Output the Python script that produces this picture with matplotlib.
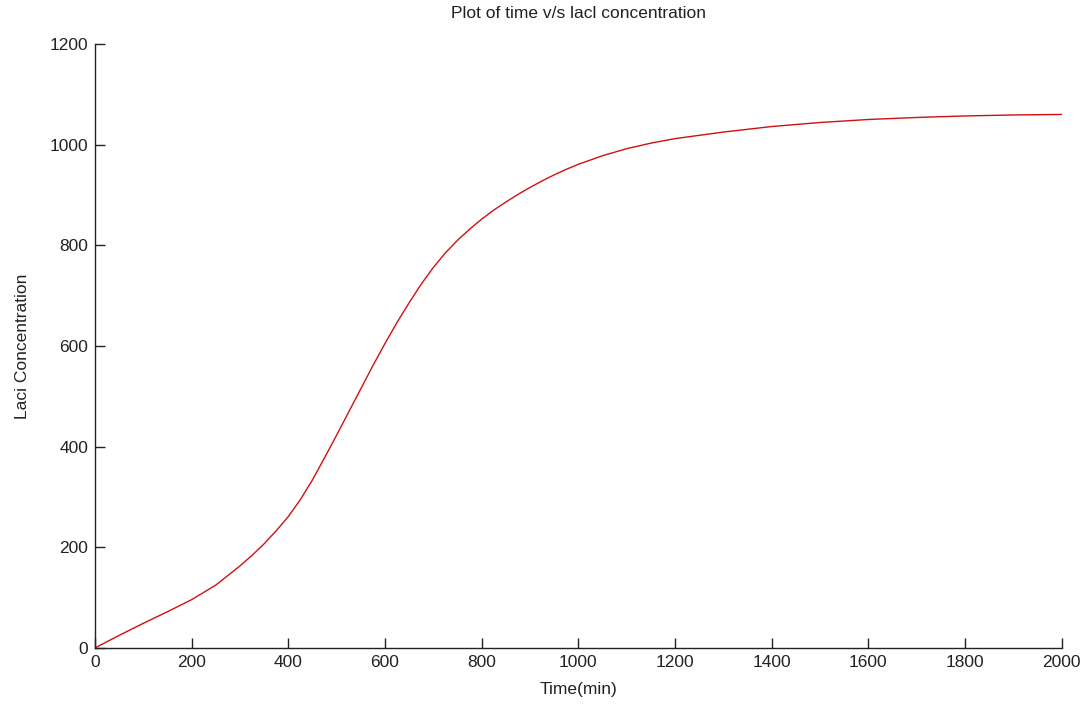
import numpy as np
import matplotlib.pyplot as plt

# values
time_min = [0, 50, 100, 150, 200, 250, 300, 325, 350, 375, 400, 425, 450, 475,
            500, 525, 550, 575, 600, 625, 650, 675, 700, 725, 750, 775, 800,
            825, 850, 875, 900, 925, 950, 975, 1000, 1050, 1100, 1150, 1200,
            1300, 1400, 1500, 1600, 1700, 1800, 1900, 2000]
laci = [0, 25, 49, 72, 96, 125, 163, 184, 207, 233, 261, 295, 334, 378,
        423, 469, 515, 561, 605, 647, 686, 723, 756, 785, 810, 832, 852,
        870, 886, 901, 915, 928, 940, 951, 961, 978, 992, 1003, 1012,
        1025, 1036, 1044, 1050, 1054, 1057, 1059, 1060]

plt.rcParams['font.family'] = ['Liberation Sans', 'DejaVu Sans']

fig = plt.figure(figsize=(10.89, 7.06), dpi=100)
ax = fig.add_axes([0.0872, 0.0822, 0.8878, 0.8555])

ax.plot(time_min, laci, color="#d01010", linewidth=1.0)

ax.set_xlim(0, 2000)
ax.set_ylim(0, 1200)
ax.set_xticks(np.arange(0, 2001, 200))
ax.set_yticks(np.arange(0, 1201, 200))

for side in ("top", "right"):
    ax.spines[side].set_visible(False)
for side in ("left", "bottom"):
    ax.spines[side].set_linewidth(1.0)
    ax.spines[side].set_color("#222222")

ax.tick_params(direction="in", length=7, width=1.0, colors="#222222",
               labelsize=12.5, labelcolor="#222222", pad=5)

ax.set_title("Plot of time v/s lacl concentration", fontsize=12.5, pad=18.5, color="#222222")
ax.set_xlabel("Time(min)", fontsize=12.5, labelpad=9, color="#222222")
ax.set_ylabel("Laci Concentration", fontsize=12.5, labelpad=14, color="#222222")

fig.savefig("out.png", dpi=100)
